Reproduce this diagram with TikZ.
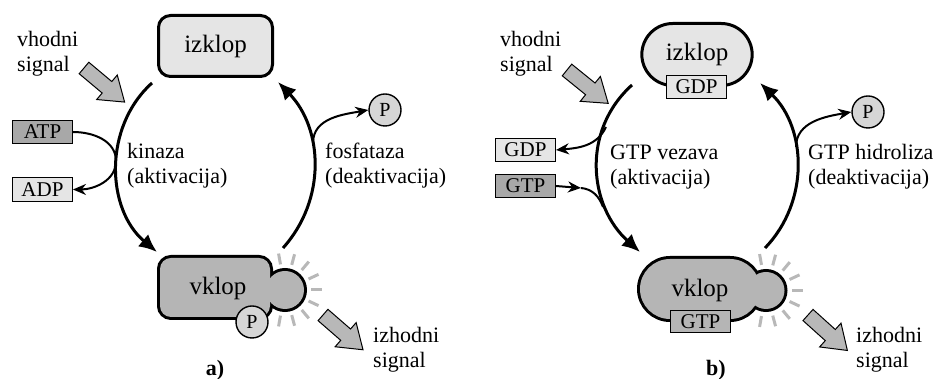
\documentclass[tikz,border=0pt]{standalone}
\usepackage{fontspec}
\setmainfont{Liberation Serif}
\usetikzlibrary{positioning,calc,arrows.meta,shapes.misc}

\definecolor{offgray}{gray}{0.9}
\definecolor{ongray}{gray}{0.71}
\definecolor{molgray}{gray}{0.66}
\definecolor{pgray}{gray}{0.84}
\definecolor{raygray}{gray}{0.72}

\tikzset{
  statebox/.style={draw, line width=3pt, fill=offgray, minimum width=114, minimum height=61, font=\fontsize{25}{30}\selectfont},
  onshape/.style={draw, line width=6pt, fill=ongray, inner sep=0pt},
  onfill/.style={fill=ongray, inner sep=0pt},
  molbox/.style={draw, line width=1.4pt, minimum width=59.5, minimum height=23.5, inner sep=0pt, font=\fontsize{21}{25}\selectfont},
  pcirc/.style={draw, circle, line width=1.4pt, fill=pgray, minimum size=32, inner sep=0pt, font=\fontsize{20}{24}\selectfont},
  lbl/.style={align=left, anchor=west, inner sep=0pt, font=\fontsize{22}{25}\selectfont},
  cycarr/.style={line width=3pt, -{Latex[length=18pt,width=16pt]}},
  sidearr/.style={line width=2pt, -{Stealth[length=13pt,width=11pt]}},
  sigarr/.style={draw=black, line width=1pt, fill=raygray},
  ray/.style={draw=raygray, line width=3pt},
}

% gray signal arrow: tail x, tail y, direction
\newcommand{\sigarrow}[3]{%
  \filldraw[sigarr, shift={(#1,#2)}, rotate=#3]
    (0,-7.5) -- (30,-7.5) -- (30,-16) -- (53,0) -- (30,16) -- (30,7.5) -- (0,7.5) -- cycle;}

\begin{document}
\begin{tikzpicture}[x=1pt, y=1pt]
  \useasboundingbox (0,0) rectangle (938,379);

  % (a) kinaza / fosfataza
  \node[statebox, rounded corners=12pt] (offA) at (215.5,333) {izklop};
  \node[onshape, rounded corners=11pt, minimum width=110, minimum height=59] (onA) at (215,91.5) {};
  \node[onshape, circle, minimum size=38] (bumpA) at (285,89) {};
  \node[onfill, rounded corners=11pt, minimum width=110, minimum height=59] (onAfill) at (onA) {};
  \node[onfill, circle, minimum size=38] (bumpAfill) at (bumpA) {};
  \node[font=\fontsize{25}{30}\selectfont] (onAtxt) at (218,91) {vklop};
  \node[pcirc] (pOn) at (252,57) {P};
  \foreach \a in {100,75,...,-100}
    \draw[ray, shift={(bumpA.center)}] (\a:26) -- (\a:37);

  \node[molbox, fill=molgray] (atp) at (42.5,247) {ATP};
  \node[molbox, fill=offgray] (adp) at (42.5,189.5) {ADP};
  \node[pcirc] (pOutA) at (385,269) {P};

  \coordinate (kinStart) at (152,296);
  \coordinate (kinEnd) at (157,127);
  \coordinate (fosStart) at (283,131);
  \coordinate (fosEnd) at (278,297);
  \coordinate (fosJoin) at (313,236);
  \draw[cycarr] (kinStart) to[out=222,in=140] (kinEnd);
  \draw[cycarr] (fosStart) to[out=48,in=-46] (fosEnd);
  \draw[sidearr] (atp.east) to[out=0,in=90] (116,218) to[out=-90,in=0] (adp.east);
  \draw[sidearr] (fosJoin) to[out=90,in=190] (pOutA.west);

  \node[lbl] (kin) at (127,213) {kinaza\\(aktivacija)};
  \node[lbl] (fos) at (325,213) {fosfataza\\(deaktivacija)};
  \node[lbl] (inA) at (17,325.5) {vhodni\\signal};
  \node[lbl] (outA) at (373,29.5) {izhodni\\signal};
  \sigarrow{84}{311}{-40}
  \sigarrow{323}{64}{-41}
  \node[font=\bfseries\fontsize{22}{25}\selectfont] (capA) at (215,9) {a)};

  % (b) GTP vezava / hidroliza
  \node[statebox, rounded rectangle, minimum width=117, minimum height=62] (offB) at (697,324.5) {izklop};
  \node[molbox, fill=offgray, minimum height=22.5] (gdpOn) at (696.5,292) {GDP};
  \node[onshape, rounded rectangle, minimum width=120, minimum height=60] (onB) at (700,90) {};
  \node[onshape, circle, minimum size=37] (bumpB) at (766,88.5) {};
  \node[onfill, rounded rectangle, minimum width=120, minimum height=60] (onBfill) at (onB) {};
  \node[onfill, circle, minimum size=37] (bumpBfill) at (bumpB) {};
  \node[font=\fontsize{25}{30}\selectfont] (onBtxt) at (700,89) {vklop};
  \node[molbox, fill=ongray, minimum height=21.5] (gtpOn) at (700.5,57.5) {GTP};
  \foreach \a in {100,75,...,-100}
    \draw[ray, shift={(bumpB.center)}] (\a:26) -- (\a:37);

  \node[molbox, fill=offgray] (gdp) at (525.5,229) {GDP};
  \node[molbox, fill=molgray] (gtp) at (525.5,193) {GTP};
  \node[pcirc] (pOutB) at (868,267) {P};

  \coordinate (vezStart) at (632,294);
  \coordinate (vezEnd) at (640,127);
  \coordinate (hidStart) at (765,131);
  \coordinate (hidEnd) at (760,296);
  \coordinate (gdpJoin) at (606,252);
  \coordinate (gtpMid) at (581,191);
  \coordinate (gtpJoin) at (603,172);
  \coordinate (hidJoin) at (796,232);
  \draw[cycarr] (vezStart) to[out=222,in=138,looseness=1.05] (vezEnd);
  \draw[cycarr] (hidStart) to[out=46,in=-44] (hidEnd);
  \draw[sidearr] (gdpJoin) to[out=245,in=5] (gdp.east);
  \draw[sidearr] (gtp.east) -- (gtpMid);
  \draw[line width=2pt] (gtpMid) to[out=-5,in=110] (gtpJoin);
  \draw[sidearr] (hidJoin) to[out=90,in=190] (pOutB.west);

  \node[lbl] (vez) at (610,212) {GTP vezava\\(aktivacija)};
  \node[lbl] (hid) at (808,212) {GTP hidroliza\\(deaktivacija)};
  \node[lbl] (inB) at (500,325.5) {vhodni\\signal};
  \node[lbl] (outB) at (856,29.5) {izhodni\\signal};
  \sigarrow{567}{309}{-39}
  \sigarrow{808}{64}{-42}
  \node[font=\bfseries\fontsize{22}{25}\selectfont] (capB) at (716,9) {b)};
\end{tikzpicture}
\end{document}
